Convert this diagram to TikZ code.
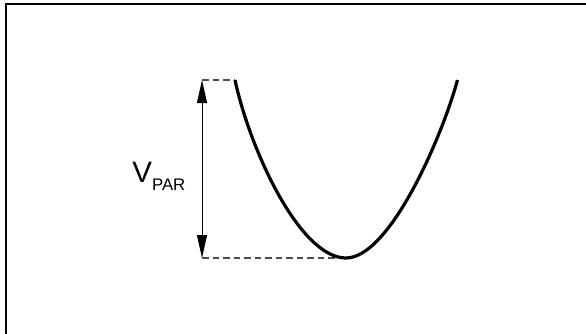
\documentclass[tikz,border=0pt]{standalone}
\usepackage{fontspec}
\setmainfont{Liberation Sans}
\usetikzlibrary{arrows.meta}
\tikzset{
  frameline/.style={line width=2.3pt, line cap=rect},
  dimline/.style={line width=1pt, {Triangle[length=23pt,width=10pt]}-{Triangle[length=23pt,width=10pt]}},
  guide/.style={line width=1.1pt, black!70, dash pattern=on 6.5pt off 4pt},
  curve/.style={line width=3.2pt, line cap=butt},
}
\begin{document}
\begin{tikzpicture}[x=1pt,y=-1pt]
\useasboundingbox (0,0) rectangle (586,333);
% frame
\coordinate (fl) at (6.3,333);
\coordinate (fc) at (6.3,4);
\coordinate (fr) at (586,4);
\draw[frameline] (fl) -- (fc) -- (fr);
% key points
\coordinate (top) at (202,80);
\coordinate (bot) at (202,258);
\coordinate (cstart) at (235,80);
\coordinate (cmin) at (346,258);
\coordinate (cend) at (457.5,80);
% guides
\draw[guide] (top) -- (cstart);
\draw[guide] (bot) -- (cmin);
% dimension arrow
\draw[dimline] (top) -- (bot);
% curve
\draw[curve] (cstart) .. controls (250,150) and (300,258) .. (cmin)
  .. controls (389,258) and (441,140) .. (cend);
% label
\node[anchor=base west, inner sep=0pt] (vpar) at (132.2,182.3)
  {\fontsize{29.5}{29.5}\selectfont V\raisebox{-8.4pt}{\fontsize{16.8}{16.8}\selectfont PAR}};
\end{tikzpicture}
\end{document}
